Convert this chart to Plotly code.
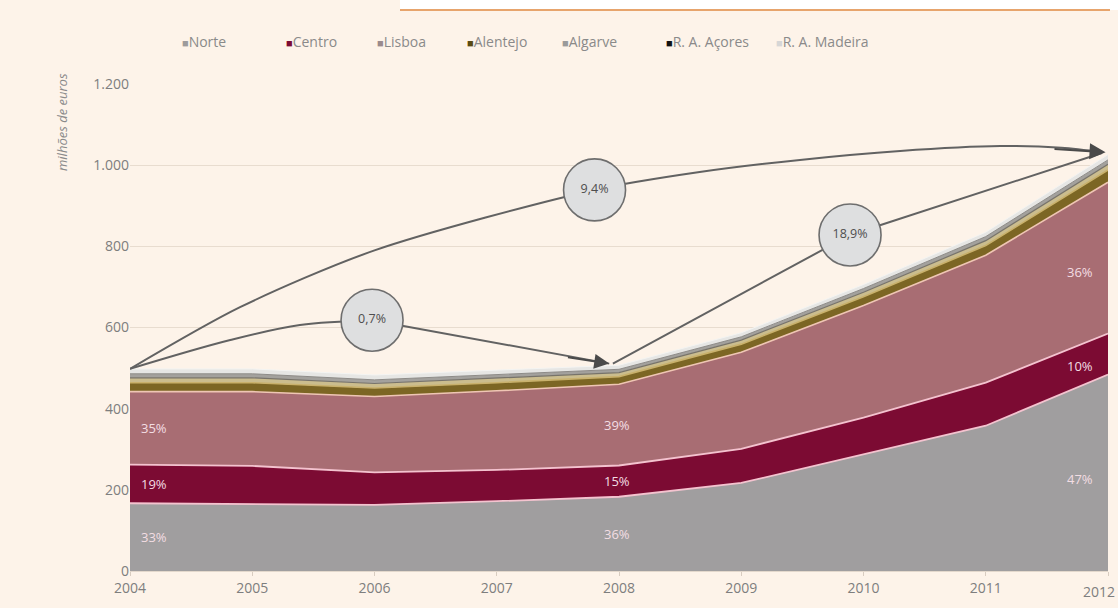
import numpy as np
import plotly.graph_objects as go

years = [2004, 2005, 2006, 2007, 2008, 2009, 2010, 2011, 2012]
regions = ["Norte", "Centro", "Lisboa", "Alentejo", "Algarve", "R. A. Açores", "R. A. Madeira"]
norte = [167, 165, 163, 172, 183, 217, 287, 358, 484]
centro = [95, 94, 80, 77, 77, 84, 91, 106, 101]
lisboa = [180, 183, 187, 195, 200, 238, 276, 314, 373]
alentejo = [22, 22, 21, 20, 19, 20, 22, 24, 30]
algarve = [12, 12, 11, 11, 10, 10, 11, 12, 14]
acores = [10, 10, 9, 9, 8, 8, 9, 10, 11]
madeira = [12, 12, 12, 11, 10, 10, 10, 11, 13]
series = [norte, centro, lisboa, alentejo, algarve, acores, madeira]

share_left = ["33%", "19%", "35%"]
share_mid = ["36%", "15%", "39%"]
share_right = ["47%", "10%", "36%"]
growth_labels = ["0,7%", "9,4%", "18,9%"]

fill_colors = ["#a09e9f", "#7c0b33", "#a86d73", "#7c6624", "#cbbd8e", "#a3a19d", "#e6e6e4"]
line_colors = ["#f4c3cf", "#f4c3cf", "#efc6b4", "#c9b16c", "#77736a", "#8d8b88", "#f4f4f2"]
line_widths = [1.8, 1.8, 1.6, 1.6, 1.2, 1.0, 1.0]
legend_colors = ["#9d9b9c", "#7c0b33", "#9a8a8c", "#5a4a12", "#9a9a9a", "#111111", "#d6d6d6"]

BG = "#fdf3e9"
FONT = "Open Sans, Lato, sans-serif"
fig = go.Figure()

for name, vals, fc, lc, lw in zip(regions, series, fill_colors, line_colors, line_widths):
    fig.add_trace(go.Scatter(
        x=years, y=vals, name=name, stackgroup="one", mode="lines",
        line=dict(color=lc, width=lw), fillcolor=fc, showlegend=False,
        hoverinfo="x+y+name"))

totals = np.sum(np.array(series), axis=0)
start = (years[0], totals[0])
mid = (years[4], totals[4])
end = (years[-1], totals[-1])

ARROW = "#626262"
# 0,7% path: 2004 -> circle -> 2008
c07 = (2005.98, 618)
pathA1_x = [start[0], 2004.82, 2005.39, c07[0]]
pathA1_y = [start[1], 569, 606, c07[1]]
fig.add_trace(go.Scatter(x=pathA1_x, y=pathA1_y, mode="lines",
                         line=dict(color=ARROW, width=2, shape="spline", smoothing=1.0),
                         showlegend=False, hoverinfo="skip"))
tipA = (mid[0] - 0.08, mid[1] + 4)
fig.add_trace(go.Scatter(x=[c07[0], tipA[0]], y=[c07[1], tipA[1]], mode="lines",
                         line=dict(color=ARROW, width=2), showlegend=False, hoverinfo="skip"))

# 9,4% path: 2004 -> circle -> 2012
c94 = (2007.80, 939)
pathB_x = [start[0], 2004.9, 2006.0, c94[0], 2008.66, 2009.48, 2010.30, 2011.12, 2011.62, end[0] - 0.04]
pathB_y = [start[1], 650, 790, c94[1], 983, 1013, 1035, 1047, 1043, end[1] + 6]
fig.add_trace(go.Scatter(x=pathB_x, y=pathB_y, mode="lines",
                         line=dict(color=ARROW, width=2, shape="spline", smoothing=0.8),
                         showlegend=False, hoverinfo="skip"))

# 18,9% path: 2008 -> circle -> 2012
c189 = (2009.89, 828)
fig.add_trace(go.Scatter(x=[mid[0] - 0.05, c189[0], end[0] - 0.05], y=[mid[1] + 4, c189[1], end[1] + 4],
                         mode="lines", line=dict(color=ARROW, width=2),
                         showlegend=False, hoverinfo="skip"))

# circles
fig.add_trace(go.Scatter(
    x=[c07[0], c94[0], c189[0]], y=[c07[1], c94[1], c189[1]], mode="markers+text",
    marker=dict(size=62, color="#dedfe0", line=dict(color="#6e6e6e", width=1.6)),
    text=growth_labels, textposition="middle center",
    textfont=dict(family=FONT, size=12.5, color="#4e4e4e"),
    showlegend=False, hoverinfo="skip"))

annotations = []
# arrow heads
annotations.append(dict(x=tipA[0], y=tipA[1], ax=tipA[0] - 0.35, ay=tipA[1] + 16,
                        xref="x", yref="y", axref="x", ayref="y", text="", showarrow=True,
                        arrowhead=2, arrowsize=1.5, arrowwidth=2, arrowcolor="#4a4a4a"))
annotations.append(dict(x=end[0] - 0.02, y=end[1] + 6, ax=end[0] - 0.45, ay=end[1] + 14,
                        xref="x", yref="y", axref="x", ayref="y", text="", showarrow=True,
                        arrowhead=2, arrowsize=1.6, arrowwidth=2, arrowcolor="#4a4a4a"))

# share labels inside areas
def layer_mids(xpos):
    n = np.interp(xpos, years, norte)
    c = np.interp(xpos, years, centro)
    l = np.interp(xpos, years, lisboa)
    return [n / 2, n + c / 2, n + c + l / 2]

LBL = "#f3dde3"
for xpos, labels in [(2004.2, share_left), (2007.98, share_mid), (2011.77, share_right)]:
    for yv, t in zip(layer_mids(xpos), labels):
        annotations.append(dict(x=xpos, y=yv, xref="x", yref="y", text=t, showarrow=False,
                                font=dict(family=FONT, size=13, color=LBL)))

# y axis title
annotations.append(dict(x=(62 - 130) / 978, y=(571 - 122) / 487, xref="paper", yref="paper",
                        xanchor="center", yanchor="middle", text="<i>milhões de euros</i>",
                        textangle=-90, showarrow=False,
                        font=dict(family=FONT, size=13, color="#8a8a8a")))

# last x tick label, kept inside the page at its right edge
annotations.append(dict(x=(1117 - 130) / 978, y=(571 - 591) / 487, xref="paper", yref="paper",
                        xanchor="right", yanchor="middle", text=str(years[-1]), showarrow=False,
                        font=dict(family=FONT, size=14, color="#7e7e7e")))

# legend (manual, small square marker before each name)
legend_x_px = [180, 284, 375, 465, 560, 664, 774]
for name, col, px in zip(regions, legend_colors, legend_x_px):
    annotations.append(dict(x=(px - 130) / 978, y=(571 - 42) / 487, xref="paper", yref="paper",
                            xanchor="left", yanchor="middle", showarrow=False,
                            text=f"<span style='color:{col};font-size:11px'>■</span>{name}",
                            font=dict(family=FONT, size=14, color="#8a8a8a")))

shapes = [
    dict(type="rect", xref="paper", yref="paper", x0=(400 - 130) / 978, x1=1.02,
         y0=(571 - 10) / 487, y1=1.2, fillcolor="#ffffff", line=dict(width=0), layer="below"),
    dict(type="line", xref="paper", yref="paper", x0=(400 - 130) / 978, x1=(1110 - 130) / 978,
         y0=(571 - 10) / 487, y1=(571 - 10) / 487, line=dict(color="#e7a46c", width=2)),
]

fig.update_layout(
    width=1118, height=608,
    margin=dict(l=130, r=10, t=84, b=37),
    paper_bgcolor=BG, plot_bgcolor=BG,
    separators=",.",
    font=dict(family=FONT, color="#8a8a8a", size=13),
    showlegend=False,
    annotations=annotations,
    shapes=shapes,
    xaxis=dict(range=[2004, 2012], tickmode="array", tickvals=years, ticktext=[str(y) for y in years],
               showgrid=False, zeroline=False, showline=True, linecolor="#e3d8cc", linewidth=1,
               ticks="outside", ticklen=4, tickcolor="#d8ccc0",
               tickfont=dict(size=14, color="#7e7e7e")),
    yaxis=dict(range=[0, 1200], tickvals=[0, 200, 400, 600, 800, 1000, 1200],
               showgrid=True, gridcolor="#e8dccf", gridwidth=1, zeroline=False,
               tickfont=dict(size=14, color="#7e7e7e"), ticks="", tickformat=",d"),
)

fig.write_html("out.html")
